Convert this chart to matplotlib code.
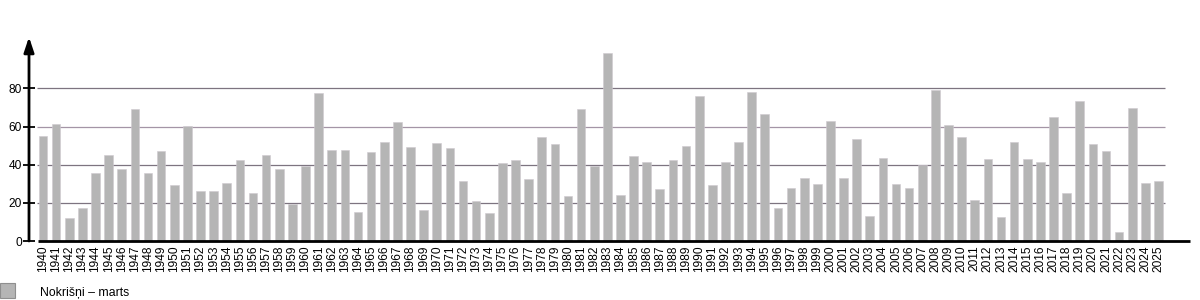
import matplotlib.pyplot as plt
from matplotlib.patches import Rectangle

plt.rcParams['font.family'] = ['Liberation Sans', 'DejaVu Sans']

years = list(range(1940, 2026))
rain = [55.2, 61.3, 12.0, 17.1, 35.4, 45.3, 37.8, 69.3, 35.5, 47.4,
        29.4, 60.1, 26.1, 26.1, 30.5, 42.7, 25.1, 44.9, 37.5, 19.5,
        39.5, 77.4, 47.9, 47.9, 15.0, 46.5, 51.9, 62.4, 49.5, 16.4,
        51.2, 48.6, 31.4, 20.9, 14.8, 40.8, 42.5, 32.4, 54.7, 50.9,
        23.7, 69.3, 39.5, 98.4, 24.2, 44.6, 41.3, 27.2, 42.3, 49.7,
        76.1, 29.4, 41.5, 52.1, 77.9, 66.7, 17.1, 27.9, 32.8, 30.0,
        63.1, 33.1, 53.7, 13.2, 43.6, 29.8, 28.0, 39.7, 79.1, 60.6,
        54.4, 21.3, 42.9, 12.5, 51.7, 42.9, 41.5, 65.0, 25.3, 73.3,
        51.0, 47.0, 4.9, 69.7, 30.3, 31.2]
grid_vals = [20, 40, 60, 80]
grid_cols = ['#7d7480', '#7d7480', '#a495a6', '#7d7480']
label = 'Nokrišņi – marts'

fig = plt.figure(figsize=(12, 3), dpi=100)
ax = fig.add_axes([29 / 1200, 59 / 300, 1161 / 1200, 204 / 300])

x = list(range(len(years)))
ax.set_xlim(-1.07, 87.4)
ax.set_ylim(0, 106.9)

for v, c in zip(grid_vals, grid_cols):
    ax.hlines(v, -0.45, 85.5, color=c, lw=0.9, zorder=1)

ax.bar(x, rain, width=0.66, color='#b5b5b5', edgecolor='#cfc9d0', lw=0.4, zorder=2)

for s in ax.spines.values():
    s.set_visible(False)

# axes: thick x line, y line with arrow
ax.plot([-0.4, 87.4], [0, 0], color='black', lw=2, clip_on=False, zorder=3,
        solid_capstyle='butt')
ax.annotate('', xy=(0, 1.0), xytext=(0, 0), xycoords='axes fraction',
            arrowprops=dict(arrowstyle='-|>,head_length=0.9,head_width=0.3',
                            color='black', lw=2, shrinkA=0, shrinkB=0))

ax.set_xticks(x)
ax.set_xticklabels([str(y) for y in years], rotation=90, fontsize=8.6)
ax.tick_params(axis='x', length=0, pad=3)
ax.set_yticks([0] + grid_vals)
ax.set_yticklabels(['0'] + [str(v) for v in grid_vals], fontsize=8.6)
ax.tick_params(axis='y', direction='inout', length=8, width=1.3, pad=1)

fig.patches.append(Rectangle((0 / 1200, 2 / 300), 15 / 1200, 15 / 300,
                             transform=fig.transFigure, facecolor='#b5b5b5',
                             edgecolor='#8f8f8f', lw=0.8))
fig.text(40 / 1200, 7 / 300, label, fontsize=8.8, va='center', ha='left')

fig.savefig('out.png', dpi=100)
